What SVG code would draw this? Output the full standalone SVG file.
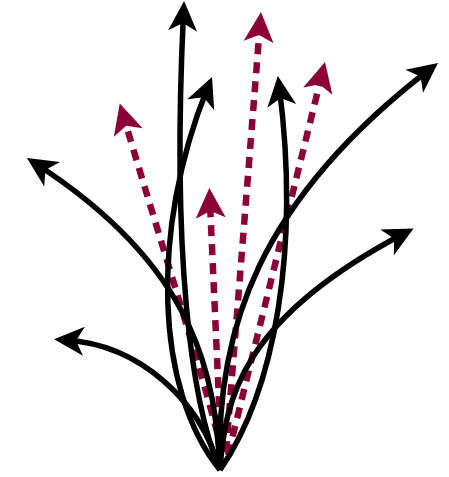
<svg xmlns="http://www.w3.org/2000/svg" width="449" height="477" viewBox="0 0 449 477">
  <style>
    .blk { fill: none; stroke: #000; stroke-width: 5.5; stroke-linecap: butt; marker-end: url(#headBlack); }
    .red { fill: none; stroke: #8b0036; stroke-width: 6.5; stroke-dasharray: 11 8; marker-end: url(#headRed); }
  </style>
  <defs>
    <marker id="headBlack" markerUnits="userSpaceOnUse" markerWidth="46" markerHeight="40" refX="29" refY="20" orient="auto" overflow="visible">
      <path d="M41,20 L11,5.5 L19,20 L11,34.5 Z" fill="#000"/>
    </marker>
    <marker id="headRed" markerUnits="userSpaceOnUse" markerWidth="48" markerHeight="40" refX="30" refY="20" orient="auto" overflow="visible">
      <path d="M45,20 L15,5 L22,20 L15,35 Z" fill="#8b0036"/>
    </marker>
  </defs>
  <rect width="449" height="477" fill="#fff"/>
  <g id="connectors">
    <path id="red1" class="red" d="M222,452 C205,380 160,240 124,118"/>
    <path id="red2" class="red" d="M221,445 L210,203"/>
    <path id="red3" class="red" d="M226,452 L259.8,27"/>
    <path id="red4" class="red" d="M228,455 L321.4,76.6"/>
    <path id="arrowA" class="blk" d="M220,470 C215,380 200,270 37,164.5"/>
    <path id="arrowB" class="blk" d="M220,470 C190,400 172,250 183.5,13"/>
    <path id="arrowC" class="blk" d="M220,470 C155,390 150,230 207.5,88"/>
    <path id="arrowD" class="blk" d="M220,470 C275,390 300,250 279.4,88"/>
    <path id="arrowE" class="blk" d="M220,470 C215,330 260,200 428.5,70.3"/>
    <path id="arrowF" class="blk" d="M220,470 C225,400 240,320 403,234"/>
    <path id="arrowG" class="blk" d="M220,470 C200,400 140,345 66,340"/>
  </g>
</svg>
